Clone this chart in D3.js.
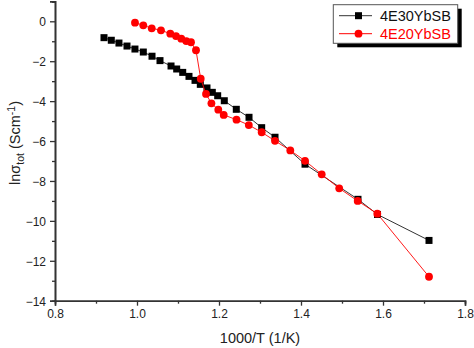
<!DOCTYPE html>
<html><head><meta charset="utf-8">
<script src="https://cdn.jsdelivr.net/npm/d3@7"></script>
<style>body{margin:0;background:#fff}svg{display:block;font-family:"Liberation Sans",Arial,sans-serif}</style>
</head><body><svg id="c" width="474" height="348"></svg>
<script>
const seriesNames = ["4E30YbSB", "4E20YbSB"];
const colors = ["#000000", "#ff0000"];
const blackX = [0.9195,0.9373,0.956,0.9756,0.995,1.0154,1.0366,1.0561,1.083,1.0968,1.1115,1.1268,1.1415,1.1544,1.1707,1.1837,1.1968,1.2129,1.2422,1.2732,1.3041,1.3366,1.4098,1.539,1.5866,1.7122];
const blackY = [-0.82,-0.95,-1.09,-1.24,-1.39,-1.54,-1.75,-1.97,-2.24,-2.39,-2.56,-2.76,-2.96,-3.16,-3.34,-3.56,-3.73,-3.98,-4.41,-4.81,-5.33,-5.81,-7.16,-8.92,-9.68,-10.98];
const redX = [0.9951,1.0154,1.0359,1.0585,1.0812,1.0951,1.108,1.1202,1.1317,1.1439,1.1554,1.1683,1.1815,1.1983,1.2115,1.2427,1.2727,1.3041,1.3366,1.3739,1.4098,1.4505,1.4932,1.5383,1.5861,1.7122];
const redY = [-0.07,-0.20,-0.35,-0.45,-0.62,-0.74,-0.87,-0.99,-1.05,-1.45,-2.88,-3.64,-4.11,-4.43,-4.69,-4.93,-5.20,-5.56,-5.99,-6.47,-6.99,-7.67,-8.37,-9.00,-9.64,-12.80];
const xTicks = [0.8,1.0,1.2,1.4,1.6,1.8];
const xMinor = [0.9,1.1,1.3,1.5,1.7];
const yTicks = [0,-2,-4,-6,-8,-10,-12,-14];
const yMinor = [1,-1,-3,-5,-7,-9,-11,-13];

const svg = d3.select("#c");
const x = d3.scaleLinear().domain([0.8,1.8]).range([55,465]);
const y = d3.scaleLinear().domain([-14,1]).range([300.7,1.34]);
const axisCol = "#333";

const gx = svg.append("g").attr("transform","translate(0,300.7)");
gx.call(d3.axisBottom(x).tickValues(xTicks).tickSize(5).tickPadding(4).tickFormat(d3.format(".1f")));
gx.append("g").call(d3.axisBottom(x).tickValues(xMinor).tickSize(3).tickFormat(""));
const gy = svg.append("g").attr("transform","translate(55,0)");
gy.call(d3.axisLeft(y).tickValues(yTicks).tickSize(5).tickPadding(4).tickFormat(d3.format("d")));
gy.append("g").call(d3.axisLeft(y).tickValues(yMinor).tickSize(3).tickFormat(""));
svg.selectAll(".domain").attr("stroke",axisCol).attr("stroke-width",1.6);
svg.selectAll(".tick line").attr("stroke",axisCol).attr("stroke-width",1.3);
svg.selectAll(".tick text").attr("font-size",12).attr("fill","#222").attr("font-family","Liberation Sans, Arial, sans-serif");
gy.selectAll("g.tick text").attr("dy","0.36em");

svg.append("text").attr("x",260).attr("y",343).attr("text-anchor","middle")
  .attr("font-size",14.5).attr("fill","#222").text("1000/T (1/K)");
const yl = svg.append("text").attr("transform","translate(20,143) rotate(-90)")
  .attr("text-anchor","middle").attr("font-size",14.5).attr("fill","#222");
yl.append("tspan").text("ln\u03c3");
yl.append("tspan").attr("font-size",10.5).attr("dy",4).text("tot");
yl.append("tspan").attr("dy",-4).text(" (Scm");
yl.append("tspan").attr("font-size",10.5).attr("dy",-5).text("-1");
yl.append("tspan").attr("dy",5).text(")");

const line = d3.line().x(d=>x(d[0])).y(d=>y(d[1]));
const black = blackX.map((v,i)=>[v,blackY[i]]);
const red = redX.map((v,i)=>[v,redY[i]]);
svg.append("path").datum(black).attr("d",line).attr("fill","none").attr("stroke","#333").attr("stroke-width",1);
svg.selectAll("rect.b").data(black).enter().append("rect").attr("class","b")
  .attr("x",d=>x(d[0])-3.5).attr("y",d=>y(d[1])-3.5).attr("width",7).attr("height",7).attr("fill",colors[0]);
svg.append("path").datum(red).attr("d",line).attr("fill","none").attr("stroke",colors[1]).attr("stroke-width",0.9);
svg.selectAll("circle.r").data(red).enter().append("circle").attr("class","r")
  .attr("cx",d=>x(d[0])).attr("cy",d=>y(d[1])).attr("r",3.9).attr("fill",colors[1]);

// legend
const lg = svg.append("g");
lg.append("rect").attr("x",337.3).attr("y",8.7).attr("width",124.4).attr("height",38.6).attr("fill","#000");
lg.append("rect").attr("x",333.3).attr("y",4.7).attr("width",124.4).attr("height",38.6).attr("fill","#fff").attr("stroke","#555").attr("stroke-width",1);
seriesNames.forEach((n,i)=>{
  const yy = 15.7 + i*18;
  lg.append("line").attr("x1",339).attr("x2",372).attr("y1",yy).attr("y2",yy).attr("stroke",i?colors[1]:"#333").attr("stroke-width",1);
  if(i===0) lg.append("rect").attr("x",355).attr("y",yy-3.5).attr("width",7).attr("height",7).attr("fill",colors[0]);
  else lg.append("circle").attr("cx",358.5).attr("cy",yy).attr("r",3.9).attr("fill",colors[1]);
  lg.append("text").attr("x",380).attr("y",yy+5).attr("font-size",14.5).attr("fill",i?colors[1]:"#111").text(n);
});
</script></body></html>
